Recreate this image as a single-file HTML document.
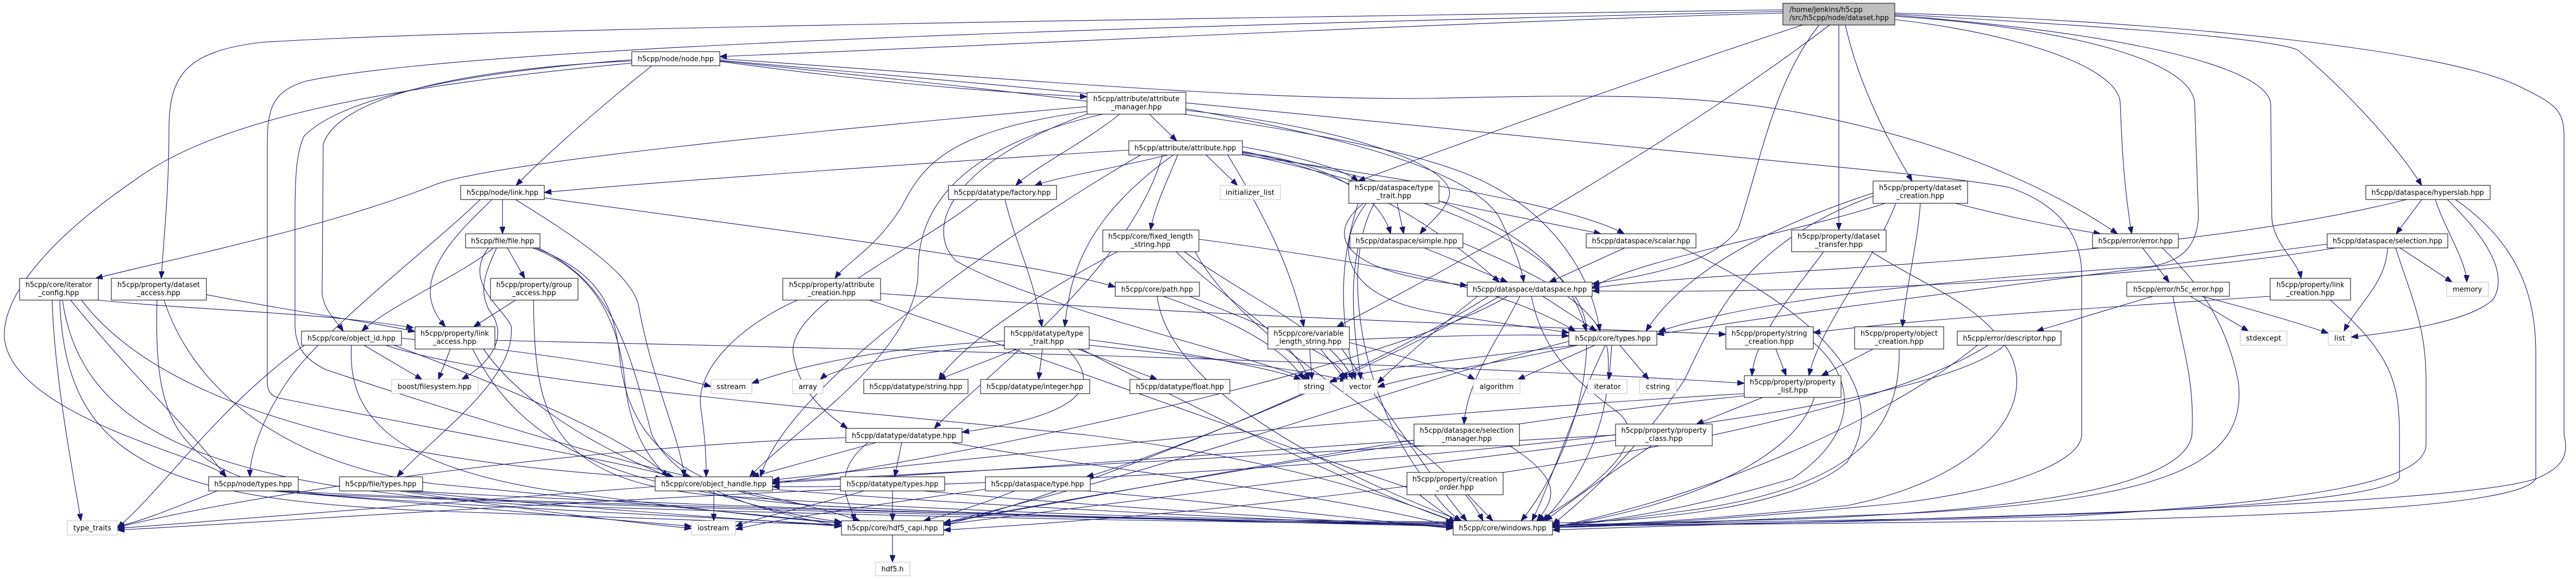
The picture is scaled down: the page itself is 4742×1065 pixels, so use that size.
<!DOCTYPE html>
<html><head><meta charset="utf-8"><style>
html,body{margin:0;padding:0;background:#fff;}
svg{display:block;}
text{font-family:"DejaVu Sans","Liberation Sans",sans-serif;font-size:13px;fill:#000;}
.n{fill:#fff;stroke:#000;stroke-width:1;}
.g{fill:#fff;stroke:#bfbfbf;stroke-width:1;}
</style></head><body>
<svg width="4742" height="1065" viewBox="0 0 4742 1065" xmlns="http://www.w3.org/2000/svg">
<defs><marker id="a" viewBox="0 0 13 10" refX="13" refY="5" markerWidth="13" markerHeight="10" markerUnits="userSpaceOnUse" orient="auto"><path d="M0,0 L13,5 L0,10 z" fill="#191970" stroke="#191970" stroke-width="1"/></marker></defs>
<rect width="4742" height="1065" fill="#fff"/>
<g fill="none" stroke="#191970" stroke-width="1.1" marker-end="url(#a)">
<path d="M3282,24 C2700,40 1800,85 1325,104"/>
<path d="M3282,18 C2500,30 900,50 480,78 C340,95 311,140 311,240 C311,360 300,450 297,512"/>
<path d="M3282,21 C2500,40 900,75 560,150 C500,170 492,200 492,270 L492,700 C492,722 500,728 513,732 C800,790 1100,840 1240,877"/>
<path d="M3318,46 C3000,150 2700,260 2500,333"/>
<path d="M3368,46 C3100,250 2700,480 2461,601"/>
<path d="M3349,46 C3265,150 3240,300 3200,420 C3160,480 3050,505 2931,522"/>
<path d="M3385,46 L3385,423"/>
<path d="M3397,46 C3420,150 3470,250 3520,333"/>
<path d="M3488,36 C3700,60 3900,120 3903,190 C3906,260 3908,330 3924,430"/>
<path d="M3488,30 C3800,50 4035,110 4040,190 L4047,396 C4045,450 4020,480 3960,490 C3500,520 3200,560 3053,610"/>
<path d="M3488,28 C3900,60 4170,120 4180,190 L4182,400 C4185,450 4230,480 4236,512"/>
<path d="M3488,26 C3900,50 4180,70 4230,92 C4300,150 4400,250 4458,341"/>
<path d="M3488,24 C4000,40 4500,90 4640,160 C4700,190 4720,200 4720,250 L4720,800 C4730,840 4715,860 4670,880 C4500,940 3200,960 2858,975"/>
<path d="M1325,113 C1600,150 1800,168 2001,178"/>
<path d="M1200,121 C1100,200 1000,290 950,341"/>
<path d="M1325,108 C1800,140 2300,185 2630,181 C2900,175 3100,170 3300,205 C3550,250 3750,330 3898,430"/>
<path d="M1163,112 C800,130 620,190 595,265 L593,540 C596,570 615,585 632,609"/>
<path d="M1163,116 C700,160 400,220 250,330 C60,460 5,560 8,620 C15,720 200,790 280,820 C360,850 400,860 417,877"/>
<path d="M1163,110 C900,130 640,170 560,250 C545,280 543,330 543,400 L543,600 C545,640 560,660 600,680 C900,780 1150,850 1270,877"/>
<path d="M1325,111 C1900,160 2400,210 2900,260 C3300,300 3600,325 3700,345 C3800,380 3830,440 3832,500 L3832,800 C3830,850 3700,900 3500,925 C3200,955 3000,965 2858,970"/>
<path d="M1325,112 C2000,180 2500,240 2700,320 C2850,380 2930,500 2945,609"/>
<path d="M2116,210 L2166,259"/>
<path d="M2061,210 C2000,260 1900,310 1870,341"/>
<path d="M2001,196 C1500,240 900,300 800,340 C600,420 300,480 176,512"/>
<path d="M2001,205 C1750,240 1700,300 1660,380 C1610,460 1560,480 1537,512"/>
<path d="M2001,210 C1750,300 1700,420 1760,480 C1900,560 2250,640 2410,698"/>
<path d="M2183,200 C2400,240 2700,300 2760,400 C2790,460 2800,490 2805,519"/>
<path d="M2183,203 C2450,230 2680,300 2668,360 C2660,390 2630,410 2614,430"/>
<path d="M2030,210 C1720,280 1690,420 1690,500 C1690,650 1450,800 1380,877"/>
<path d="M2078,276 C1700,300 1200,335 1002,354"/>
<path d="M2150,285 C2050,310 1950,325 1905,341"/>
<path d="M2220,285 L2278,341"/>
<path d="M2168,285 C2150,330 2125,380 2118,423"/>
<path d="M2160,285 C2000,400 1970,500 1960,601"/>
<path d="M2287,280 C2450,300 2540,360 2560,430"/>
<path d="M2287,285 C2600,330 2900,380 2990,430"/>
<path d="M2287,278 C2500,320 2650,420 2760,519"/>
<path d="M2100,285 C1900,400 1450,700 1400,877"/>
<path d="M2287,283 C2600,350 2900,450 2920,600 C2930,750 2850,900 2800,958"/>
<path d="M2287,281 C2700,350 2880,450 2920,609"/>
<path d="M2287,270 C2400,290 2470,310 2500,333"/>
<path d="M2260,285 C2330,400 2380,500 2400,601"/>
<path d="M2140,285 C2080,500 1800,700 1720,788"/>
<path d="M925,367 L925,430"/>
<path d="M1002,364 C1400,420 1900,480 2053,528"/>
<path d="M884,367 C800,450 600,600 530,700 C470,790 460,850 460,877"/>
<path d="M906,367 C850,420 790,480 792,540 C794,570 810,590 820,601"/>
<path d="M949,367 C1050,430 1160,500 1175,560 C1200,700 1250,800 1260,877"/>
<path d="M1850,367 C1870,450 1900,500 1918,601"/>
<path d="M1800,367 C1700,450 1450,560 1460,650 C1470,720 1520,760 1560,788"/>
<path d="M2572,374 L2584,430"/>
<path d="M2649,370 C2800,400 2900,420 2947,430"/>
<path d="M2510,374 C2440,430 2460,500 2701,525"/>
<path d="M2515,374 C2450,460 2480,540 2620,570 C2780,600 2850,605 2888,612"/>
<path d="M2500,374 C2460,500 2470,600 2495,698"/>
<path d="M2530,374 C2470,480 2500,700 2600,850 C2640,910 2660,940 2690,958"/>
<path d="M3600,374 C3700,400 3800,420 3867,430"/>
<path d="M3535,374 C3530,450 3510,520 3502,601"/>
<path d="M3490,374 C3440,500 3350,600 3330,691"/>
<path d="M3450,360 C3200,450 3150,600 3100,700 C3000,850 2900,930 2858,965"/>
<path d="M3448,355 C3250,420 3100,500 3030,609"/>
<path d="M3470,374 C3300,430 3000,480 2931,530"/>
<path d="M4458,367 L4411,430"/>
<path d="M4483,367 C4500,420 4540,480 4541,519"/>
<path d="M4505,367 C4570,430 4620,500 4590,550 C4550,590 4420,610 4328,620"/>
<path d="M4520,367 C4640,450 4668,550 4668,650 L4668,880 C4650,920 4400,945 3800,958 C3300,965 3000,968 2858,968"/>
<path d="M4430,367 C4100,450 3600,480 3300,500 C3100,512 3000,520 2931,530"/>
<path d="M908,456 C860,500 720,560 666,609"/>
<path d="M934,456 L966,512"/>
<path d="M914,456 C895,500 880,530 900,570 C940,620 900,670 850,698"/>
<path d="M899,456 C850,520 930,570 941,600 C950,700 800,800 731,877"/>
<path d="M980,456 C1100,500 1140,600 1150,700 C1160,800 1200,850 1230,877"/>
<path d="M985,456 C1100,500 1130,560 1140,650 C1150,760 1200,900 1500,930 C2000,955 2400,962 2675,966"/>
<path d="M990,456 C1130,520 1160,650 1200,800 C1250,900 1400,940 1549,968"/>
<path d="M2057,463 C1950,520 1780,620 1728,698"/>
<path d="M2165,463 C2250,550 2380,620 2410,698"/>
<path d="M2180,463 C2300,550 2460,620 2490,698"/>
<path d="M2200,463 C2300,650 2650,800 2730,958"/>
<path d="M2207,440 C2500,480 2750,520 2900,609"/>
<path d="M2622,456 L2775,519"/>
<path d="M2693,447 C2820,500 2950,560 2960,650 C2970,800 2880,920 2840,958"/>
<path d="M2500,456 C2480,550 2500,650 2505,698"/>
<path d="M2991,456 L2852,519"/>
<path d="M3096,456 C3300,550 3500,700 3400,850 C3300,940 3000,960 2858,962"/>
<path d="M3357,463 C3300,540 3230,620 3225,691"/>
<path d="M3445,463 C3550,530 3650,560 3700,650 C3750,750 3650,880 3400,930 C3100,960 2950,966 2858,966"/>
<path d="M3944,456 L3993,519"/>
<path d="M3980,456 C4050,520 4100,600 4120,700 C4140,850 4000,920 3500,945 C3100,960 2950,970 2858,970"/>
<path d="M4418,456 L4514,519"/>
<path d="M4395,456 C4393,520 4340,560 4315,609"/>
<path d="M4410,456 C4440,550 4466,600 4466,700 L4466,820 C4460,880 4300,920 3800,950 C3300,963 3000,966 2858,966"/>
<path d="M4284,449 C3900,500 3400,560 3050,615"/>
<path d="M4300,456 C3900,520 3300,540 2931,535"/>
<path d="M96,552 C100,700 140,900 149,958"/>
<path d="M181,552 C350,570 600,575 761,603"/>
<path d="M130,552 C250,700 380,820 415,877"/>
<path d="M115,552 C150,800 400,900 1000,930 C1800,955 2400,963 2675,963"/>
<path d="M110,552 C120,850 300,920 800,940 C1200,955 1400,962 1549,966"/>
<path d="M150,552 C300,750 700,850 1220,880"/>
<path d="M380,542 C550,575 700,595 764,610"/>
<path d="M289,552 C285,750 300,880 600,910 C1500,945 2300,960 2675,962"/>
<path d="M302,552 C350,700 500,850 800,890 C1200,930 1400,950 1549,962"/>
<path d="M949,552 L872,601"/>
<path d="M982,552 C985,750 1000,880 1300,910 C1800,945 2300,958 2675,960"/>
<path d="M1468,552 C1360,600 1280,680 1290,750 C1300,820 1300,850 1300,877"/>
<path d="M1621,540 C2200,580 2800,600 3177,615"/>
<path d="M1600,552 C1900,650 2300,800 2600,900 C2640,930 2660,950 2690,958"/>
<path d="M2141,545 C2300,600 2370,650 2400,698"/>
<path d="M2190,545 C2350,610 2460,650 2480,698"/>
<path d="M2130,545 C2150,700 2400,850 2690,958"/>
<path d="M2840,545 L2939,609"/>
<path d="M2798,545 C2760,620 2700,700 2695,780"/>
<path d="M2775,545 C2600,650 2000,800 1422,890"/>
<path d="M2819,545 C2840,650 2900,700 2980,760 C3050,820 2900,920 2830,958"/>
<path d="M2740,545 C2500,700 2000,900 1737,966"/>
<path d="M2760,545 C2500,700 2100,850 2000,877"/>
<path d="M2720,545 C2650,600 2560,680 2536,705"/>
<path d="M3963,545 L3749,609"/>
<path d="M4032,545 L4139,609"/>
<path d="M4053,545 C4150,570 4250,600 4286,613"/>
<path d="M4000,545 C4020,650 4040,700 4035,800 C4020,900 3700,940 3300,955 C3000,963 2900,966 2858,966"/>
<path d="M4179,545 C3800,570 3500,590 3338,612"/>
<path d="M4290,552 C4400,650 4417,700 4417,800 L4417,880 C4380,920 4000,945 3500,955 C3100,963 2950,966 2858,966"/>
<path d="M670,635 L777,698"/>
<path d="M725,635 C900,700 1150,800 1230,877"/>
<path d="M710,635 C900,700 1500,750 2000,800 C2400,850 2600,930 2680,960"/>
<path d="M647,635 C640,750 700,850 1000,900 C1300,940 1450,955 1549,962"/>
<path d="M739,622 C1000,650 1200,680 1309,711"/>
<path d="M560,635 C400,750 300,900 216,971"/>
<path d="M829,642 L807,698"/>
<path d="M911,626 C1500,640 2500,660 3211,705"/>
<path d="M870,642 C950,800 1100,900 1500,930 C2000,955 2400,960 2675,962"/>
<path d="M890,642 C1000,800 1300,930 1549,960"/>
<path d="M1849,627 C1600,640 1450,680 1384,705"/>
<path d="M1849,634 C1650,650 1530,680 1510,698"/>
<path d="M1872,642 L1728,698"/>
<path d="M1919,642 L1912,698"/>
<path d="M1984,642 L2130,698"/>
<path d="M1965,642 C2020,700 2020,760 1771,795"/>
<path d="M2005,625 C2200,650 2350,680 2395,698"/>
<path d="M2005,635 C2250,660 2420,685 2480,700"/>
<path d="M1990,642 C2200,750 2500,900 2680,960"/>
<path d="M2411,642 L2415,698"/>
<path d="M2431,642 L2476,698"/>
<path d="M2484,630 C2600,660 2700,690 2715,698"/>
<path d="M2470,642 C2550,750 2650,900 2700,958"/>
<path d="M2484,625 C2700,615 2850,615 2888,618"/>
<path d="M2900,635 C2700,660 2500,680 2448,703"/>
<path d="M2905,635 C2750,670 2600,690 2536,712"/>
<path d="M2936,635 L2794,698"/>
<path d="M2967,635 L2962,698"/>
<path d="M2982,635 L3035,698"/>
<path d="M2955,635 C2900,750 2850,900 2820,958"/>
<path d="M2888,628 C2600,700 2200,850 1737,962"/>
<path d="M3269,642 L3288,691"/>
<path d="M3338,630 C3420,700 3420,800 3300,880 C3100,940 2950,960 2858,968"/>
<path d="M3448,642 L3353,691"/>
<path d="M3496,642 C3500,800 3400,900 3100,940 C2950,960 2900,966 2858,966"/>
<path d="M3640,635 C3500,750 3200,900 2858,970"/>
<path d="M3660,635 C3400,800 2500,930 1737,975"/>
<path d="M3690,635 C3500,800 2000,900 1422,895"/>
<path d="M3245,731 L3123,780"/>
<path d="M3340,731 C3300,850 3100,930 2858,970"/>
<path d="M3211,724 C2600,760 2000,820 1422,883"/>
<path d="M3211,728 C2700,780 2200,880 1737,962"/>
<path d="M1613,814 L1384,877"/>
<path d="M1660,814 L1647,877"/>
<path d="M1598,814 C1529,869 1560,920 1575,958"/>
<path d="M1751,814 C2000,860 2400,900 2675,968"/>
<path d="M1557,805 C1100,820 500,900 216,970"/>
<path d="M2779,820 C2882,886 2860,920 2829,958"/>
<path d="M2603,810 C2300,830 1800,870 1422,888"/>
<path d="M2603,815 C2300,860 1900,930 1737,962"/>
<path d="M3040,820 C2950,880 2880,930 2845,958"/>
<path d="M2974,800 C2500,830 1900,860 1422,886"/>
<path d="M2974,810 C2500,870 2000,930 1737,965"/>
<path d="M2702,910 L2748,958"/>
<path d="M520,903 C900,925 2200,955 2675,966"/>
<path d="M510,903 C800,930 1300,950 1549,966"/>
<path d="M500,903 C800,930 1100,955 1273,968"/>
<path d="M400,903 C330,930 260,960 216,968"/>
<path d="M755,903 C1200,930 2200,958 2675,968"/>
<path d="M745,903 C1000,930 1300,950 1549,968"/>
<path d="M735,903 C950,935 1150,960 1273,972"/>
<path d="M1314,903 L1314,958"/>
<path d="M1364,903 C1450,920 1530,940 1583,958"/>
<path d="M1422,900 C1800,930 2300,955 2675,968"/>
<path d="M1206,895 C900,920 400,955 216,972"/>
<path d="M1643,903 L1643,958"/>
<path d="M1590,903 C1500,930 1400,950 1354,968"/>
<path d="M1700,903 C2000,930 2400,955 2675,970"/>
<path d="M1547,900 C1000,925 500,960 216,975"/>
<path d="M1868,903 C1800,930 1750,945 1700,958"/>
<path d="M2000,903 C2300,930 2500,955 2675,972"/>
<path d="M1814,900 C1600,930 1400,960 1354,974"/>
<path d="M1643,984 L1643,1034"/>
</g>
<g>
<rect x="3282" y="6" width="206" height="40" fill="#bfbfbf" stroke="#000"/>
<text x="3294" y="22" textLength="135" lengthAdjust="spacingAndGlyphs">/home/jenkins/h5cpp</text>
<text x="3294" y="37" textLength="183" lengthAdjust="spacingAndGlyphs">/src/h5cpp/node/dataset.hpp</text>
</g>
<g text-anchor="middle">
<rect class="n" x="1163" y="95" width="162" height="26"/><text x="1244" y="112.5" textLength="140" lengthAdjust="spacingAndGlyphs">h5cpp/node/node.hpp</text>
<rect class="n" x="2001" y="170" width="182" height="40"/><text x="2092" y="186" textLength="159" lengthAdjust="spacingAndGlyphs">h5cpp/attribute/attribute</text><text x="2092" y="201" textLength="93" lengthAdjust="spacingAndGlyphs">_manager.hpp</text>
<rect class="n" x="2078" y="259" width="209" height="26"/><text x="2182" y="276.5" textLength="187" lengthAdjust="spacingAndGlyphs">h5cpp/attribute/attribute.hpp</text>
<rect class="n" x="848" y="341" width="154" height="26"/><text x="925" y="358.5" textLength="132" lengthAdjust="spacingAndGlyphs">h5cpp/node/link.hpp</text>
<rect class="n" x="1746" y="341" width="199" height="26"/><text x="1845" y="358.5" textLength="178" lengthAdjust="spacingAndGlyphs">h5cpp/datatype/factory.hpp</text>
<rect class="g" x="2246" y="341" width="111" height="26"/><text x="2301" y="358.5" textLength="90" lengthAdjust="spacingAndGlyphs">initializer_list</text>
<rect class="n" x="2483" y="333" width="166" height="41"/><text x="2566" y="349.5" textLength="144" lengthAdjust="spacingAndGlyphs">h5cpp/dataspace/type</text><text x="2566" y="364.5" textLength="64" lengthAdjust="spacingAndGlyphs">_trait.hpp</text>
<rect class="n" x="3448" y="333" width="174" height="41"/><text x="3535" y="349.5" textLength="152" lengthAdjust="spacingAndGlyphs">h5cpp/property/dataset</text><text x="3535" y="364.5" textLength="88" lengthAdjust="spacingAndGlyphs">_creation.hpp</text>
<rect class="n" x="4355" y="341" width="229" height="26"/><text x="4469" y="358.5" textLength="207" lengthAdjust="spacingAndGlyphs">h5cpp/dataspace/hyperslab.hpp</text>
<rect class="n" x="857" y="430" width="137" height="26"/><text x="925" y="447.5" textLength="116" lengthAdjust="spacingAndGlyphs">h5cpp/file/file.hpp</text>
<rect class="n" x="2030" y="423" width="177" height="40"/><text x="2118" y="439" textLength="156" lengthAdjust="spacingAndGlyphs">h5cpp/core/fixed_length</text><text x="2118" y="454" textLength="73" lengthAdjust="spacingAndGlyphs">_string.hpp</text>
<rect class="n" x="2485" y="430" width="208" height="26"/><text x="2589" y="447.5" textLength="187" lengthAdjust="spacingAndGlyphs">h5cpp/dataspace/simple.hpp</text>
<rect class="n" x="2920" y="430" width="202" height="26"/><text x="3021" y="447.5" textLength="181" lengthAdjust="spacingAndGlyphs">h5cpp/dataspace/scalar.hpp</text>
<rect class="n" x="3298" y="423" width="174" height="40"/><text x="3385" y="439" textLength="152" lengthAdjust="spacingAndGlyphs">h5cpp/property/dataset</text><text x="3385" y="454" textLength="88" lengthAdjust="spacingAndGlyphs">_transfer.hpp</text>
<rect class="n" x="3852" y="430" width="158" height="26"/><text x="3931" y="447.5" textLength="137" lengthAdjust="spacingAndGlyphs">h5cpp/error/error.hpp</text>
<rect class="n" x="4284" y="430" width="222" height="26"/><text x="4395" y="447.5" textLength="202" lengthAdjust="spacingAndGlyphs">h5cpp/dataspace/selection.hpp</text>
<rect class="n" x="36" y="512" width="145" height="40"/><text x="108" y="528" textLength="122" lengthAdjust="spacingAndGlyphs">h5cpp/core/iterator</text><text x="108" y="543" textLength="75" lengthAdjust="spacingAndGlyphs">_config.hpp</text>
<rect class="n" x="205" y="512" width="175" height="40"/><text x="292" y="528" textLength="152" lengthAdjust="spacingAndGlyphs">h5cpp/property/dataset</text><text x="292" y="543" textLength="80" lengthAdjust="spacingAndGlyphs">_access.hpp</text>
<rect class="n" x="903" y="512" width="161" height="40"/><text x="983" y="528" textLength="139" lengthAdjust="spacingAndGlyphs">h5cpp/property/group</text><text x="983" y="543" textLength="81" lengthAdjust="spacingAndGlyphs">_access.hpp</text>
<rect class="n" x="1441" y="512" width="180" height="40"/><text x="1531" y="528" textLength="157" lengthAdjust="spacingAndGlyphs">h5cpp/property/attribute</text><text x="1531" y="543" textLength="88" lengthAdjust="spacingAndGlyphs">_creation.hpp</text>
<rect class="n" x="2053" y="519" width="155" height="26"/><text x="2130" y="536.5" textLength="132" lengthAdjust="spacingAndGlyphs">h5cpp/core/path.hpp</text>
<rect class="n" x="2701" y="519" width="230" height="26"/><text x="2816" y="536.5" textLength="210" lengthAdjust="spacingAndGlyphs">h5cpp/dataspace/dataspace.hpp</text>
<rect class="n" x="3915" y="519" width="189" height="26"/><text x="4010" y="536.5" textLength="166" lengthAdjust="spacingAndGlyphs">h5cpp/error/h5c_error.hpp</text>
<rect class="n" x="4179" y="512" width="148" height="40"/><text x="4253" y="528" textLength="125" lengthAdjust="spacingAndGlyphs">h5cpp/property/link</text><text x="4253" y="543" textLength="89" lengthAdjust="spacingAndGlyphs">_creation.hpp</text>
<rect class="g" x="4504" y="519" width="77" height="26"/><text x="4542" y="536.5" textLength="54" lengthAdjust="spacingAndGlyphs">memory</text>
<rect class="n" x="555" y="609" width="184" height="26"/><text x="647" y="626.5" textLength="162" lengthAdjust="spacingAndGlyphs">h5cpp/core/object_id.hpp</text>
<rect class="n" x="764" y="601" width="147" height="41"/><text x="837" y="617.5" textLength="126" lengthAdjust="spacingAndGlyphs">h5cpp/property/link</text><text x="837" y="632.5" textLength="80" lengthAdjust="spacingAndGlyphs">_access.hpp</text>
<rect class="n" x="1849" y="601" width="156" height="41"/><text x="1927" y="617.5" textLength="134" lengthAdjust="spacingAndGlyphs">h5cpp/datatype/type</text><text x="1927" y="632.5" textLength="63" lengthAdjust="spacingAndGlyphs">_trait.hpp</text>
<rect class="n" x="2334" y="601" width="150" height="41"/><text x="2409" y="617.5" textLength="129" lengthAdjust="spacingAndGlyphs">h5cpp/core/variable</text><text x="2409" y="632.5" textLength="121" lengthAdjust="spacingAndGlyphs">_length_string.hpp</text>
<rect class="n" x="2888" y="609" width="162" height="26"/><text x="2969" y="626.5" textLength="139" lengthAdjust="spacingAndGlyphs">h5cpp/core/types.hpp</text>
<rect class="n" x="3177" y="601" width="161" height="41"/><text x="3257" y="617.5" textLength="139" lengthAdjust="spacingAndGlyphs">h5cpp/property/string</text><text x="3257" y="632.5" textLength="90" lengthAdjust="spacingAndGlyphs">_creation.hpp</text>
<rect class="n" x="3414" y="601" width="164" height="41"/><text x="3496" y="617.5" textLength="142" lengthAdjust="spacingAndGlyphs">h5cpp/property/object</text><text x="3496" y="632.5" textLength="90" lengthAdjust="spacingAndGlyphs">_creation.hpp</text>
<rect class="n" x="3603" y="609" width="191" height="26"/><text x="3699" y="626.5" textLength="171" lengthAdjust="spacingAndGlyphs">h5cpp/error/descriptor.hpp</text>
<rect class="g" x="4124" y="609" width="86" height="26"/><text x="4167" y="626.5" textLength="65" lengthAdjust="spacingAndGlyphs">stdexcept</text>
<rect class="g" x="4286" y="609" width="42" height="26"/><text x="4307" y="626.5" textLength="20" lengthAdjust="spacingAndGlyphs">list</text>
<rect class="g" x="721" y="698" width="159" height="26"/><text x="800" y="715.5" textLength="136" lengthAdjust="spacingAndGlyphs">boost/filesystem.hpp</text>
<rect class="g" x="1309" y="698" width="75" height="26"/><text x="1346" y="715.5" textLength="54" lengthAdjust="spacingAndGlyphs">sstream</text>
<rect class="g" x="1459" y="698" width="56" height="26"/><text x="1487" y="715.5" textLength="34" lengthAdjust="spacingAndGlyphs">array</text>
<rect class="n" x="1590" y="698" width="192" height="26"/><text x="1686" y="715.5" textLength="171" lengthAdjust="spacingAndGlyphs">h5cpp/datatype/string.hpp</text>
<rect class="n" x="1805" y="698" width="201" height="26"/><text x="1905" y="715.5" textLength="178" lengthAdjust="spacingAndGlyphs">h5cpp/datatype/integer.hpp</text>
<rect class="n" x="2080" y="698" width="184" height="26"/><text x="2172" y="715.5" textLength="162" lengthAdjust="spacingAndGlyphs">h5cpp/datatype/float.hpp</text>
<rect class="g" x="2390" y="698" width="58" height="26"/><text x="2419" y="715.5" textLength="38" lengthAdjust="spacingAndGlyphs">string</text>
<rect class="g" x="2473" y="698" width="63" height="26"/><text x="2504" y="715.5" textLength="41" lengthAdjust="spacingAndGlyphs">vector</text>
<rect class="g" x="2712" y="698" width="86" height="26"/><text x="2755" y="715.5" textLength="63" lengthAdjust="spacingAndGlyphs">algorithm</text>
<rect class="g" x="2923" y="698" width="72" height="26"/><text x="2959" y="715.5" textLength="49" lengthAdjust="spacingAndGlyphs">iterator</text>
<rect class="g" x="3018" y="698" width="68" height="26"/><text x="3052" y="715.5" textLength="44" lengthAdjust="spacingAndGlyphs">cstring</text>
<rect class="n" x="3211" y="691" width="178" height="40"/><text x="3300" y="707" textLength="158" lengthAdjust="spacingAndGlyphs">h5cpp/property/property</text><text x="3300" y="722" textLength="56" lengthAdjust="spacingAndGlyphs">_list.hpp</text>
<rect class="n" x="1557" y="788" width="214" height="26"/><text x="1664" y="805.5" textLength="192" lengthAdjust="spacingAndGlyphs">h5cpp/datatype/datatype.hpp</text>
<rect class="n" x="2603" y="780" width="194" height="40"/><text x="2700" y="796" textLength="173" lengthAdjust="spacingAndGlyphs">h5cpp/dataspace/selection</text><text x="2700" y="811" textLength="92" lengthAdjust="spacingAndGlyphs">_manager.hpp</text>
<rect class="n" x="2974" y="780" width="178" height="40"/><text x="3063" y="796" textLength="157" lengthAdjust="spacingAndGlyphs">h5cpp/property/property</text><text x="3063" y="811" textLength="69" lengthAdjust="spacingAndGlyphs">_class.hpp</text>
<rect class="n" x="384" y="877" width="165" height="26"/><text x="466" y="894.5" textLength="143" lengthAdjust="spacingAndGlyphs">h5cpp/node/types.hpp</text>
<rect class="n" x="625" y="877" width="153" height="26"/><text x="701" y="894.5" textLength="131" lengthAdjust="spacingAndGlyphs">h5cpp/file/types.hpp</text>
<rect class="n" x="1206" y="877" width="216" height="26"/><text x="1314" y="894.5" textLength="194" lengthAdjust="spacingAndGlyphs">h5cpp/core/object_handle.hpp</text>
<rect class="n" x="1547" y="877" width="192" height="26"/><text x="1643" y="894.5" textLength="169" lengthAdjust="spacingAndGlyphs">h5cpp/datatype/types.hpp</text>
<rect class="n" x="1814" y="877" width="193" height="26"/><text x="1910" y="894.5" textLength="171" lengthAdjust="spacingAndGlyphs">h5cpp/dataspace/type.hpp</text>
<rect class="n" x="2590" y="869" width="177" height="41"/><text x="2678" y="885.5" textLength="156" lengthAdjust="spacingAndGlyphs">h5cpp/property/creation</text><text x="2678" y="900.5" textLength="70" lengthAdjust="spacingAndGlyphs">_order.hpp</text>
<rect class="g" x="124" y="958" width="92" height="26"/><text x="170" y="975.5" textLength="70" lengthAdjust="spacingAndGlyphs">type_traits</text>
<rect class="g" x="1273" y="958" width="81" height="26"/><text x="1313" y="975.5" textLength="58" lengthAdjust="spacingAndGlyphs">iostream</text>
<rect class="n" x="1549" y="958" width="188" height="26"/><text x="1643" y="975.5" textLength="167" lengthAdjust="spacingAndGlyphs">h5cpp/core/hdf5_capi.hpp</text>
<rect class="n" x="2675" y="958" width="183" height="26"/><text x="2766" y="975.5" textLength="161" lengthAdjust="spacingAndGlyphs">h5cpp/core/windows.hpp</text>
<rect class="g" x="1612" y="1034" width="63" height="25"/><text x="1643" y="1051" textLength="41" lengthAdjust="spacingAndGlyphs">hdf5.h</text>
</g>
</svg>
</body></html>
